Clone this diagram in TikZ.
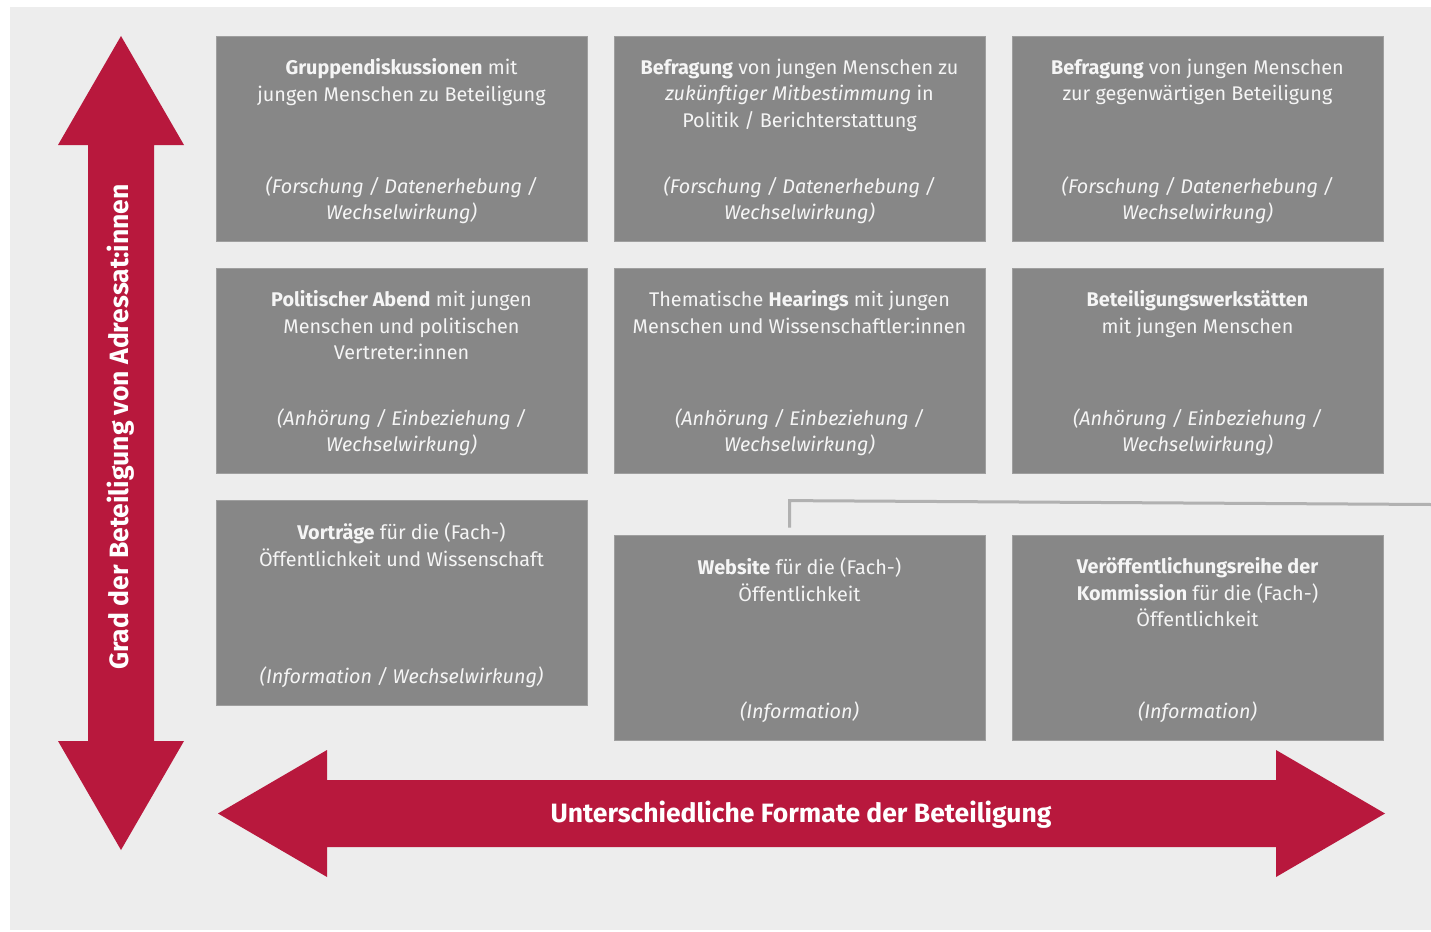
\documentclass[tikz,border=0pt]{standalone}
\usepackage{fontspec}
\setmainfont{Fira Sans}
\definecolor{kommrot}{HTML}{B8183D}
\definecolor{feldgrau}{HTML}{878787}
\definecolor{hintergrund}{HTML}{EDEDED}
\definecolor{liniengrau}{HTML}{B1B1B1}
\tikzset{
  feld/.style={rectangle,fill=feldgrau,draw=gray!75,line width=0.8pt,
    minimum width=371pt,minimum height=205pt,inner sep=0pt},
  kopf/.style={anchor=north,align=center,inner sep=0pt,text=white!96!black,
    font=\fontsize{19.8}{26.5}\selectfont},
  fuss/.style={kopf,anchor=south,font=\fontsize{19.8}{26.5}\selectfont\itshape},
  pfeiltext/.style={text=white,font=\fontsize{26.5}{30}\selectfont\bfseries,inner sep=0pt}
}
\begin{document}
\begin{tikzpicture}[x=1pt,y=-1pt]
    \useasboundingbox (0,0) rectangle (1431,931);
    %% Hintergrund
    \fill[hintergrund] (10,7) rectangle (1431,930);
    %% Pfeile
    \fill[kommrot] (121,36) -- (184,145) -- (154,145) -- (154,741) -- (184,741)
        -- (121,850) -- (58,741) -- (88,741) -- (88,145) -- (58,145) -- cycle;
    \fill[kommrot] (218,813.5) -- (327,750) -- (327,780) -- (1276,780) -- (1276,750)
        -- (1385,813.5) -- (1276,877) -- (1276,847) -- (327,847) -- (327,877) -- cycle;
    \node[pfeiltext,rotate=90] (grad) at (121,427) {Grad der Beteiligung von Adressat:innen};
    \node[pfeiltext] (formate) at (801,815) {Unterschiedliche Formate der Beteiligung};
    %% Felder
    \node[feld] (gd) at (401.5,138.5) {};
    \node[feld] (bz) at (799.5,138.5) {};
    \node[feld] (bg) at (1197.5,138.5) {};
    \node[feld] (pa) at (401.5,370.5) {};
    \node[feld] (th) at (799.5,370.5) {};
    \node[feld] (bw) at (1197.5,370.5) {};
    \node[feld] (vo) at (401.5,602.5) {};
    \node[feld] (ws) at (799.5,637.5) {};
    \node[feld] (vr) at (1197.5,637.5) {};
    %% Texte
    \node[kopf] (gd-t) at ([yshift=-23pt]gd.north) {\textbf{Gruppendiskussionen} mit\\jungen Menschen zu Beteiligung};
    \node[fuss] (gd-f) at ([yshift=17pt]gd.south) {(Forschung / Datenerhebung /\\Wechselwirkung)};
    \node[kopf] (bz-t) at ([yshift=-23pt]bz.north) {\textbf{Befragung} von jungen Menschen zu\\\textit{zukünftiger Mitbestimmung} in\\Politik / Berichterstattung};
    \node[fuss] (bz-f) at ([yshift=17pt]bz.south) {(Forschung / Datenerhebung /\\Wechselwirkung)};
    \node[kopf] (bg-t) at ([yshift=-23pt]bg.north) {\textbf{Befragung} von jungen Menschen\\zur gegenwärtigen Beteiligung};
    \node[fuss] (bg-f) at ([yshift=17pt]bg.south) {(Forschung / Datenerhebung /\\Wechselwirkung)};
    \node[kopf] (pa-t) at ([yshift=-23pt]pa.north) {\textbf{Politischer Abend} mit jungen\\Menschen und politischen\\Vertreter:innen};
    \node[fuss] (pa-f) at ([yshift=17pt]pa.south) {(Anhörung / Einbeziehung /\\Wechselwirkung)};
    \node[kopf] (th-t) at ([yshift=-23pt]th.north) {Thematische \textbf{Hearings} mit jungen\\Menschen und Wissenschaftler:innen};
    \node[fuss] (th-f) at ([yshift=17pt]th.south) {(Anhörung / Einbeziehung /\\Wechselwirkung)};
    \node[kopf] (bw-t) at ([yshift=-23pt]bw.north) {\textbf{Beteiligungswerkstätten}\\mit jungen Menschen};
    \node[fuss] (bw-f) at ([yshift=17pt]bw.south) {(Anhörung / Einbeziehung /\\Wechselwirkung)};
    \node[kopf] (vo-t) at ([yshift=-23pt]vo.north) {\textbf{Vorträge} für die (Fach-)\\Öffentlichkeit und Wissenschaft};
    \node[fuss] (vo-f) at ([yshift=17pt]vo.south) {(Information / Wechselwirkung)};
    \node[kopf] (ws-t) at ([yshift=-23pt]ws.north) {\textbf{Website} für die (Fach-)\\Öffentlichkeit};
    \node[fuss] (ws-f) at ([yshift=17pt]ws.south) {(Information)};
    \node[kopf] (vr-t) at ([yshift=-23pt]vr.north) {\textbf{Veröffentlichungsreihe der}\\\textbf{Kommission} für die (Fach-)\\Öffentlichkeit};
    \node[fuss] (vr-f) at ([yshift=17pt]vr.south) {(Information)};
    %% Linie
    \coordinate (rand) at (1431,504.5);
    \draw[liniengrau,line width=3pt] ([xshift=-10pt,yshift=7pt]ws.north) -- ++(0,-27) -- (rand);
\end{tikzpicture}
\end{document}
